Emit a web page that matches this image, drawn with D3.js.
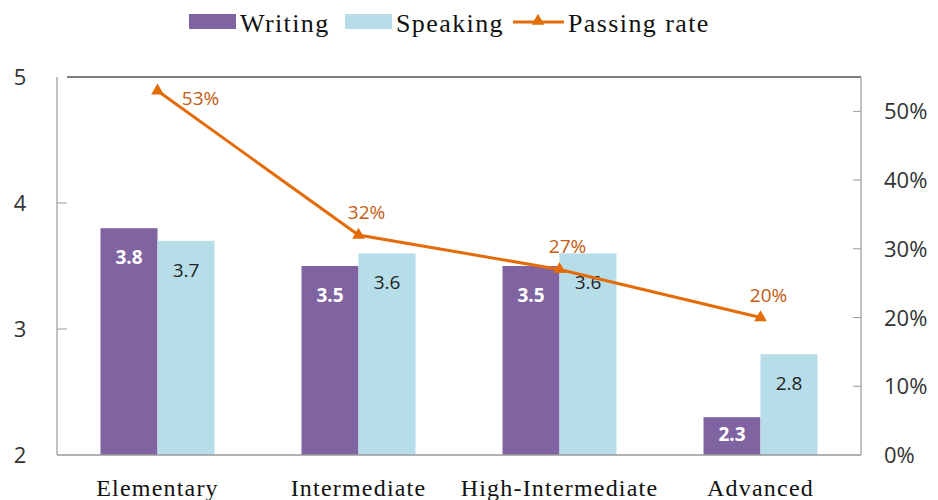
<!DOCTYPE html>
<html>
<head>
<meta charset="utf-8">
<title>Writing / Speaking / Passing rate</title>
<style>
    html, body { margin: 0; background: #fff; }
    svg text { font-family: "Open Sans", "Liberation Sans", sans-serif; }
    svg text.serif { font-family: "Liberation Serif", "DejaVu Serif", serif; letter-spacing: 1.2px; }
    svg text.legend { font-size: 26px; letter-spacing: 1.4px; }
</style>
</head>
<body>
<svg id="chart" width="938" height="500"></svg>
<script src="https://cdn.jsdelivr.net/npm/d3@7"></script>
<script>
    "use strict";

    const categories = ["Elementary", "Intermediate", "High-Intermediate", "Advanced"];
    const writing = [3.8, 3.5, 3.5, 2.3];
    const speaking = [3.7, 3.6, 3.6, 2.8];
    const passingRate = [0.53, 0.32, 0.27, 0.20];
    const leftTicks = [2, 3, 4, 5];
    const rightTicks = [0, 0.1, 0.2, 0.3, 0.4, 0.5];

    const svg = d3.select("#chart"),
        plotLeft = 57, plotRight = 861, plotTop = 77, plotBottom = 455,
        purple = "#8064a2", blue = "#b7dee8", orange = "#e36c09", labelOrange = "#c55a11";

    const x = d3.scaleBand().domain(categories).range([plotLeft, plotRight]);
    const y = d3.scaleLinear().domain([2, 5]).range([plotBottom, plotTop]);
    const y2 = d3.scaleLinear().domain([0, 0.55]).range([plotBottom, plotTop]);
    const barW = 57;

    // label baseline inside the bar end, pulled up on short bars
    const labelY = v => y(v) + Math.min(36, (plotBottom - y(v)) * 0.62);

    // bars
    const groups = svg.append("g").selectAll("g")
        .data(categories)
        .join("g");

    groups.append("rect")
        .attr("x", d => x(d) + x.bandwidth() / 2 - barW)
        .attr("y", (d, i) => y(writing[i]))
        .attr("width", barW)
        .attr("height", (d, i) => plotBottom - y(writing[i]))
        .attr("fill", purple);

    groups.append("rect")
        .attr("x", d => x(d) + x.bandwidth() / 2)
        .attr("y", (d, i) => y(speaking[i]))
        .attr("width", barW)
        .attr("height", (d, i) => plotBottom - y(speaking[i]))
        .attr("fill", blue);

    groups.append("text")
        .attr("x", d => x(d) + x.bandwidth() / 2 - barW / 2)
        .attr("y", (d, i) => labelY(writing[i]))
        .attr("text-anchor", "middle")
        .attr("font-size", 19)
        .attr("font-weight", "bold")
        .attr("fill", "#fff")
        .text((d, i) => writing[i].toFixed(1));

    groups.append("text")
        .attr("x", d => x(d) + x.bandwidth() / 2 + barW / 2)
        .attr("y", (d, i) => labelY(speaking[i]))
        .attr("text-anchor", "middle")
        .attr("font-size", 19)
        .attr("fill", "#222")
        .text((d, i) => speaking[i].toFixed(1));

    // frame
    svg.append("line").attr("x1", plotLeft + 10).attr("x2", plotRight)
        .attr("y1", plotTop).attr("y2", plotTop).attr("stroke", "#000").attr("stroke-width", 1.2);
    svg.append("line").attr("x1", plotLeft).attr("x2", plotLeft)
        .attr("y1", plotTop).attr("y2", plotBottom).attr("stroke", "#999").attr("stroke-width", 1.2);
    svg.append("line").attr("x1", plotRight).attr("x2", plotRight)
        .attr("y1", plotTop).attr("y2", plotBottom).attr("stroke", "#999").attr("stroke-width", 1.2);
    svg.append("line").attr("x1", plotLeft).attr("x2", plotRight)
        .attr("y1", plotBottom).attr("y2", plotBottom).attr("stroke", "#999").attr("stroke-width", 1.5);

    // left axis
    svg.append("g").selectAll("line").data(leftTicks.slice(1, 3)).join("line")
        .attr("x1", plotLeft).attr("x2", plotLeft + 10)
        .attr("y1", d => y(d)).attr("y2", d => y(d))
        .attr("stroke", "#999");
    svg.append("g").selectAll("text").data(leftTicks).join("text")
        .attr("x", 20).attr("y", d => y(d) + 8)
        .attr("text-anchor", "middle")
        .attr("font-size", 22).attr("fill", "#333")
        .text(d => d);

    // right axis
    svg.append("g").selectAll("line").data(rightTicks.slice(1)).join("line")
        .attr("x1", plotRight - 8).attr("x2", plotRight)
        .attr("y1", d => y2(d)).attr("y2", d => y2(d))
        .attr("stroke", "#999");
    svg.append("g").selectAll("text").data(rightTicks).join("text")
        .attr("x", 884).attr("y", d => y2(d) + 8)
        .attr("font-size", 22).attr("fill", "#333")
        .text(d => d3.format(".0%")(d));

    // category labels
    svg.append("g").selectAll("text").data(categories).join("text")
        .attr("class", "serif")
        .attr("x", d => x(d) + x.bandwidth() / 2)
        .attr("y", 496)
        .attr("text-anchor", "middle")
        .attr("font-size", 24).attr("fill", "#111")
        .text(d => d);

    // passing rate line
    const cx = (d, i) => x(categories[i]) + x.bandwidth() / 2;
    svg.append("path")
        .datum(passingRate)
        .attr("fill", "none")
        .attr("stroke", orange)
        .attr("stroke-width", 3)
        .attr("d", d3.line().x(cx).y(d => y2(d)));

    const tri = d3.symbol().type(d3.symbolTriangle).size(70);
    svg.append("g").selectAll("path").data(passingRate).join("path")
        .attr("d", tri)
        .attr("fill", orange)
        .attr("transform", (d, i) => `translate(${cx(d, i)},${y2(d)})`);

    svg.append("g").selectAll("text").data(passingRate).join("text")
        .attr("x", (d, i) => i === 0 ? cx(d, i) + 43 : cx(d, i) + 8)
        .attr("y", (d, i) => i === 0 ? y2(d) + 14 : y2(d) - 16)
        .attr("text-anchor", "middle")
        .attr("font-size", 19)
        .attr("fill", labelOrange)
        .text(d => d3.format(".0%")(d));

    // legend
    const legend = svg.append("g");
    legend.append("rect").attr("x", 189).attr("y", 14).attr("width", 47).attr("height", 15).attr("fill", purple);
    legend.append("text").attr("class", "serif legend").attr("x", 240).attr("y", 32).attr("fill", "#111").text("Writing");
    legend.append("rect").attr("x", 345).attr("y", 14).attr("width", 47).attr("height", 15).attr("fill", blue);
    legend.append("text").attr("class", "serif legend").attr("x", 396).attr("y", 32).attr("fill", "#111").text("Speaking");
    legend.append("line").attr("x1", 513).attr("x2", 564).attr("y1", 22).attr("y2", 22)
        .attr("stroke", orange).attr("stroke-width", 3);
    legend.append("path").attr("d", tri).attr("fill", orange).attr("transform", "translate(538,21)");
    legend.append("text").attr("class", "serif legend").attr("x", 568).attr("y", 32).attr("fill", "#111").text("Passing rate");
</script>
</body>
</html>
